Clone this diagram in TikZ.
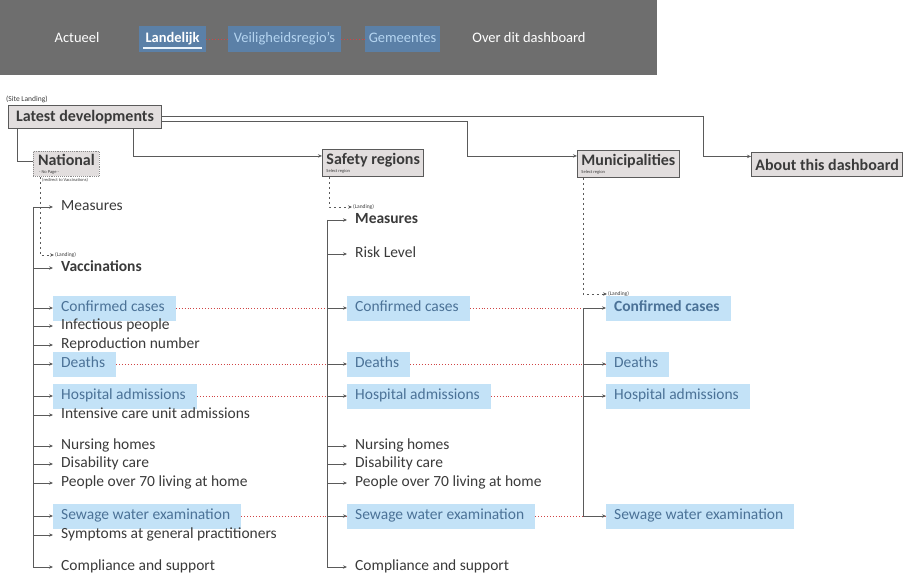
\documentclass[tikz,border=0pt]{standalone}
\usepackage{fontspec}
\setmainfont{Carlito}
\usetikzlibrary{arrows.meta,positioning}

\definecolor{barGray}{HTML}{6E6E6E}
\definecolor{navBlue}{HTML}{5B80A7}
\definecolor{navText}{HTML}{B4D4F0}
\definecolor{lineGray}{HTML}{5A5A5A}
\definecolor{boxGray}{HTML}{E2DEDE}
\definecolor{txtGray}{HTML}{3A3A3A}
\definecolor{hlBlue}{HTML}{C3E2F7}
\definecolor{hlText}{HTML}{4B7297}
\definecolor{dotRed}{HTML}{D04545}
\newcommand{\pagesub}{\fontsize{4.5}{5}\selectfont\mdseries}

\begin{document}
\begin{tikzpicture}[x=1pt, y=-1pt,
   item/.style={anchor=west, inner xsep=8pt, inner ysep=5pt, text height=11pt, text depth=4pt, text=txtGray, font=\fontsize{15.5}{17}\selectfont},
   hl/.style={item, fill=hlBlue, text=hlText, execute at end node={\kern3pt}},
   heavy/.style={font=\fontsize{15.5}{17}\selectfont\bfseries},
   pagebox/.style={draw=lineGray, fill=boxGray, line width=0.9pt, anchor=north west, inner xsep=4pt, inner ysep=2pt, align=left, text=txtGray, font=\fontsize{16}{17}\selectfont\bfseries},
   tinylbl/.style={anchor=west, inner sep=1pt, text=txtGray, font=\fontsize{5.5}{6}\selectfont},
   link/.style={draw=lineGray, line width=0.8pt, -{Stealth[length=4pt,width=3.4pt]}},
   landing/.style={link, dash pattern=on 2pt off 3pt},
   reddot/.style={draw=dotRed, line width=0.9pt, dotted},
   navbox/.style={fill=navBlue, inner xsep=4pt, minimum height=26pt, text height=10pt, text depth=3pt, text=navText, font=\fontsize{14.5}{16}\selectfont},
   navtxt/.style={text=white, text height=10pt, text depth=3pt, font=\fontsize{14.5}{16}\selectfont}]
   \useasboundingbox (0,0) rectangle (904,577);

   % Top bar
   \fill[barGray] (0,0) rectangle (657,75);
   \node[navtxt] (actueel) at (77,39) {Actueel};
   \node[navbox, minimum width=67pt, text=white, font=\fontsize{14.5}{16}\selectfont\bfseries] (landelijk) at (172.5,39) {Landelijk};
   \node[navbox, minimum width=113pt] (veilig) at (284.5,39) {Veiligheidsregio's};
   \node[navbox, minimum width=75pt] (gemeentes) at (402.5,39) {Gemeentes};
   \node[navtxt] (overdit) at (529,39) {Over dit dashboard};
   \draw[white!75!navText, line width=1.8pt] ([xshift=4pt,yshift=4pt]landelijk.south west) -- ([xshift=-4pt,yshift=4pt]landelijk.south east);
   \draw[reddot] (landelijk) -- (veilig);
   \draw[reddot] (veilig) -- (gemeentes);

   % Pages
   \node[tinylbl, font=\fontsize{7.5}{8}\selectfont] (siteLbl) at (5,99) {(Site Landing)};
   \node[pagebox, minimum width=153pt, minimum height=23pt] (latest) at (8,105) {Latest developments};
   \node[pagebox, draw=lineGray!70, densely dotted, minimum width=66pt, minimum height=25pt, inner xsep=3pt] (national) at (33,151) {National\\[-9pt]{\pagesub\ - No Page -}};
   \node[tinylbl, font=\pagesub] (redirect) at (41,180) {(redirect to Vaccinations)};
   \node[pagebox, minimum height=27pt] (safety) at (322,149) {Safety regions\\[-9pt]{\pagesub Select region}};
   \node[pagebox, minimum height=27pt] (munic) at (577,150) {Municipalities\\[-9pt]{\pagesub Select region}};
   \node[pagebox, minimum height=24pt] (about) at (751,152) {About this dashboard};

   % Links from the landing page
   \draw[link, -] ([xshift=9pt]latest.south west) |- ([yshift=2.5pt]national.west);
   \draw[link] ([xshift=125pt]latest.south west) |- ([yshift=7pt]safety.west);
   \draw[link] ([yshift=-4.5pt]latest.east) -- ++(305,0) |- ([yshift=8pt]munic.west);
   \draw[link] ([yshift=1pt]latest.east) -- ++(541,0) |- ([yshift=8pt]about.west);

   % Column: National
   \node[tinylbl] (natLand) at (54,255) {(Landing)};
   \node[item] (nMeasures) at (53,207) {Measures};
   \node[item, heavy] (nVacc) at (53,268) {Vaccinations};
   \node[hl] (nCases) at (53,308) {Confirmed cases};
   \node[item] (nInfect) at (53,326) {Infectious people};
   \node[item] (nRepro) at (53,345) {Reproduction number};
   \node[hl] (nDeaths) at (53,364) {Deaths};
   \node[hl] (nHosp) at (53,396) {Hospital admissions};
   \node[item] (nIcu) at (53,415) {Intensive care unit admissions};
   \node[item] (nNursing) at (53,446) {Nursing homes};
   \node[item] (nDisab) at (53,464) {Disability care};
   \node[item] (nOver70) at (53,483) {People over 70 living at home};
   \node[hl] (nSewage) at (53,516) {Sewage water examination};
   \node[item] (nSymptoms) at (53,535) {Symptoms at general practitioners};
   \node[item] (nComply) at (53,567) {Compliance and support};

   % Column: Safety regions
   \node[tinylbl] (sLand) at (352,207) {(Landing)};
   \node[item, heavy] (sMeasures) at (347,220) {Measures};
   \node[item] (sRisk) at (347,254) {Risk Level};
   \node[hl] (sCases) at (347,308) {Confirmed cases};
   \node[hl] (sDeaths) at (347,364) {Deaths};
   \node[hl] (sHosp) at (347,396) {Hospital admissions};
   \node[item] (sNursing) at (347,446) {Nursing homes};
   \node[item] (sDisab) at (347,464) {Disability care};
   \node[item] (sOver70) at (347,483) {People over 70 living at home};
   \node[hl] (sSewage) at (347,516) {Sewage water examination};
   \node[item] (sComply) at (347,567) {Compliance and support};

   % Column: Municipalities
   \node[tinylbl] (mLand) at (607,294) {(Landing)};
   \node[hl, heavy] (mCases) at (606,308) {Confirmed cases};
   \node[hl] (mDeaths) at (606,364) {Deaths};
   \node[hl] (mHosp) at (606,396) {Hospital admissions};
   \node[hl] (mSewage) at (606,516) {Sewage water examination};

   % Same data on several levels
   \draw[reddot] (nCases) -- (sCases);
   \draw[reddot] (sCases) -- (mCases);
   \draw[reddot] (nDeaths) -- (sDeaths);
   \draw[reddot] (sDeaths) -- (mDeaths);
   \draw[reddot] (nHosp) -- (sHosp);
   \draw[reddot] (sHosp) -- (mHosp);
   \draw[reddot] (nSewage) -- (sSewage);
   \draw[reddot] (sSewage) -- (mSewage);

   % Redirects to landing pages
   \draw[landing] ([xshift=7pt]national.south west) |- (natLand.west);
   \draw[landing] ([xshift=7pt]safety.south west) |- (sLand.west);
   \draw[landing] ([xshift=6pt]munic.south west) |- (mLand.west);

   % Trunks and branches
   \coordinate (natTop) at (33,207);
   \coordinate (safTop) at (327,220);
   \coordinate (munTop) at (583,308);
   \draw[link] (natTop) |- (nComply.west);
   \foreach \n in {nMeasures,nVacc,nCases,nInfect,nRepro,nDeaths,nHosp,nIcu,nNursing,nDisab,nOver70,nSewage,nSymptoms}
      \draw[link] (natTop |- \n.west) -- (\n.west);
   \draw[link] (safTop) |- (sComply.west);
   \foreach \n in {sMeasures,sRisk,sCases,sDeaths,sHosp,sNursing,sDisab,sOver70,sSewage}
      \draw[link] (safTop |- \n.west) -- (\n.west);
   \draw[link] (munTop) |- (mSewage.west);
   \foreach \n in {mCases,mDeaths,mHosp}
      \draw[link] (munTop |- \n.west) -- (\n.west);

\end{tikzpicture}
\end{document}
